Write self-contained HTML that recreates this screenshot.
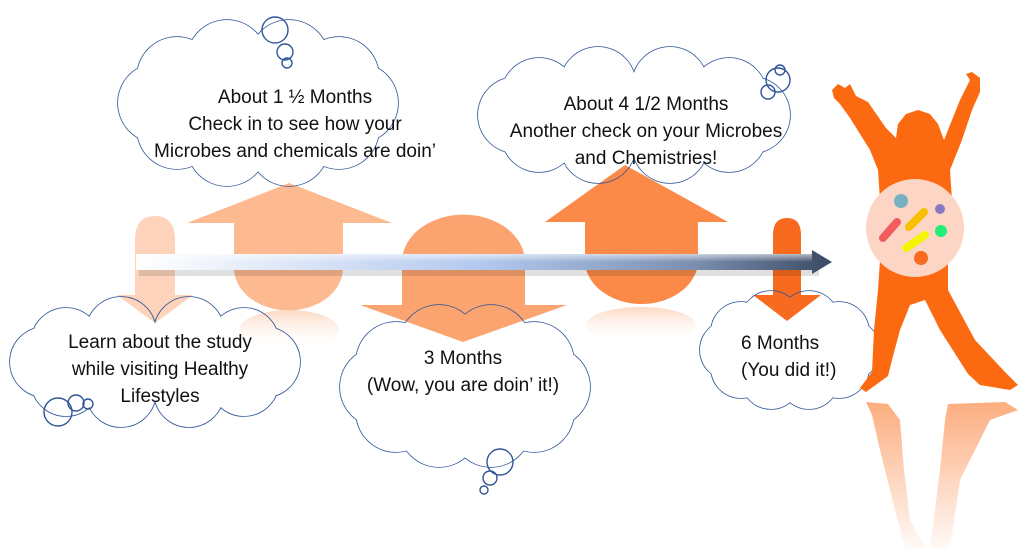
<!DOCTYPE html>
<html><head><meta charset="utf-8">
<style>
html,body{margin:0;padding:0;background:#fff;}
svg{display:block;}
text{font-family:"Liberation Sans",sans-serif;font-size:19px;fill:#111;}
</style></head>
<body>
<svg width="1024" height="548" viewBox="0 0 1024 548" xmlns="http://www.w3.org/2000/svg">
<defs>
<linearGradient id="bar" x1="0" x2="1" y1="0" y2="0">
<stop offset="0" stop-color="#ffffff"/>
<stop offset="0.5" stop-color="#b2c8ee"/>
<stop offset="0.8" stop-color="#7b8fb0"/>
<stop offset="1" stop-color="#3b4a63"/>
</linearGradient>
<linearGradient id="barv" x1="0" x2="0" y1="0" y2="1">
<stop offset="0" stop-color="#fff" stop-opacity="0.6"/>
<stop offset="1" stop-color="#fff" stop-opacity="0"/>
</linearGradient>
<linearGradient id="refl" x1="0" x2="0" y1="0" y2="1">
<stop offset="0" stop-color="#fb8a48" stop-opacity="0.7"/>
<stop offset="1" stop-color="#fb8a48" stop-opacity="0.05"/>
</linearGradient>
<linearGradient id="arefl" x1="0" x2="0" y1="0" y2="1">
<stop offset="0" stop-color="#fcd0b5" stop-opacity="0.8"/>
<stop offset="1" stop-color="#fff" stop-opacity="0"/>
</linearGradient>
<g id="c1">
<circle cx="358" cy="103" r="40"/><circle cx="339" cy="129" r="40"/><circle cx="289" cy="146" r="40"/><circle cx="227" cy="146" r="40"/><circle cx="177" cy="129" r="40"/><circle cx="158" cy="103" r="40"/><circle cx="177" cy="77" r="40"/><circle cx="227" cy="60" r="40"/><circle cx="289" cy="60" r="40"/><circle cx="339" cy="77" r="40"/>
</g>
<g id="c2">
<circle cx="752" cy="115" r="38"/><circle cx="729" cy="134" r="38"/><circle cx="670" cy="145" r="38"/><circle cx="598" cy="145" r="38"/><circle cx="539" cy="134" r="38"/><circle cx="516" cy="115" r="38"/><circle cx="539" cy="96" r="38"/><circle cx="598" cy="85" r="38"/><circle cx="670" cy="85" r="38"/><circle cx="729" cy="96" r="38"/>
</g>
<g id="c3">
<circle cx="265" cy="362" r="35"/><circle cx="244" cy="381" r="35"/><circle cx="189" cy="392" r="35"/><circle cx="121" cy="392" r="35"/><circle cx="66" cy="381" r="35"/><circle cx="45" cy="362" r="35"/><circle cx="66" cy="343" r="35"/><circle cx="121" cy="332" r="35"/><circle cx="189" cy="332" r="35"/><circle cx="244" cy="343" r="35"/>
</g>
<g id="c4">
<circle cx="550" cy="387" r="40"/><circle cx="534" cy="412" r="40"/><circle cx="491" cy="427" r="40"/><circle cx="439" cy="427" r="40"/><circle cx="396" cy="412" r="40"/><circle cx="380" cy="387" r="40"/><circle cx="396" cy="362" r="40"/><circle cx="439" cy="345" r="40"/><circle cx="491" cy="345" r="40"/><circle cx="534" cy="362" r="40"/>
</g>
<g id="c5">
<circle cx="850" cy="350" r="30"/><circle cx="839" cy="368" r="30"/><circle cx="809" cy="379" r="30"/><circle cx="771" cy="379" r="30"/><circle cx="741" cy="368" r="30"/><circle cx="730" cy="350" r="30"/><circle cx="741" cy="332" r="30"/><circle cx="771" cy="321" r="30"/><circle cx="809" cy="321" r="30"/><circle cx="839" cy="332" r="30"/>
</g>
<mask id="cm" maskUnits="userSpaceOnUse" x="0" y="0" width="1024" height="548">
<rect x="0" y="0" width="1024" height="548" fill="#fff"/>
<g fill="#000" stroke="none" transform="translate(0,0)">
<use href="#c1"/><use href="#c2"/><use href="#c3"/><use href="#c4"/><use href="#c5"/>
<ellipse cx="258" cy="103" rx="105" ry="50"/>
<ellipse cx="634" cy="115" rx="120" ry="36"/>
<ellipse cx="155" cy="362" rx="112" ry="36"/>
<ellipse cx="465" cy="387" rx="90" ry="46"/>
<ellipse cx="790" cy="350" rx="62" ry="32"/>
</g>
</mask>
</defs>

<!-- arrows -->
<path d="M135,240 Q135,216 155,216 Q175,216 175,240 L175,295 L193,295 L155,323 L117,295 L135,295 Z" fill="#fdd3bb"/>
<path d="M289,183 L392,223 L343,223 L343,268 A54,42 0 0 1 234,268 L234,223 L187,223 Z" fill="#fdb990"/>
<ellipse cx="289" cy="330" rx="50" ry="20" fill="url(#arefl)"/>
<path d="M402,262 A61,47 0 0 1 525,262 L525,305 L567,305 L463,342 L360,305 L402,305 Z" fill="#fca46f"/>
<path d="M625,165 L728,222 L698,222 L698,265 A57,45 0 0 1 585,265 L585,222 L545,222 Z" fill="#fb8a48"/>
<ellipse cx="641" cy="325" rx="55" ry="18" fill="url(#arefl)"/>
<path d="M773,235 Q773,218 787,218 Q801,218 801,235 L801,295 L821,295 L787,321 L753,295 L773,295 Z" fill="#f86a1f"/>

<!-- timeline bar -->
<rect x="137" y="256" width="680" height="17" fill="#000" opacity="0.12" transform="translate(2,3)"/>
<path d="M136,254 L812,254 L812,250 L832,262 L812,274 L812,270 L136,270 Z" fill="url(#bar)"/>
<rect x="136" y="254" width="676" height="8" fill="url(#barv)"/>

<!-- clouds -->
<g fill="none" stroke="#2f5597" stroke-width="1.6" mask="url(#cm)">
<use href="#c1"/><use href="#c2"/><use href="#c3"/><use href="#c4"/><use href="#c5"/>
</g>

<!-- bubbles -->
<g fill="none" stroke="#2f5597" stroke-width="1.4">
<circle cx="275" cy="30" r="13"/><circle cx="285" cy="52" r="8"/><circle cx="287" cy="63" r="5"/>
<circle cx="778" cy="80" r="12"/><circle cx="768" cy="92" r="7"/><circle cx="780" cy="70" r="5"/>
<circle cx="58" cy="412" r="14"/><circle cx="76" cy="403" r="8"/><circle cx="88" cy="404" r="5"/>
<circle cx="500" cy="462" r="13"/><circle cx="490" cy="478" r="7"/><circle cx="484" cy="490" r="4"/>
</g>

<!-- text -->
<g text-anchor="middle">
<text x="295" y="103">About 1 ½ Months</text>
<text x="295" y="130">Check in to see how your</text>
<text x="295" y="157">Microbes and chemicals are doin’</text>
<text x="646" y="110">About 4 1/2 Months</text>
<text x="646" y="137">Another check on your Microbes</text>
<text x="646" y="164">and Chemistries!</text>
<text x="160" y="348">Learn about the study</text>
<text x="160" y="375">while visiting Healthy</text>
<text x="160" y="402">Lifestyles</text>
<text x="463" y="364">3 Months</text>
<text x="463" y="391">(Wow, you are doin’ it!)</text>
</g>
<text x="741" y="349">6 Months</text>
<text x="741" y="376">(You did it!)</text>

<!-- figure -->
<path fill="#fb6a10" d="M832,90 L838,84 L845,88 L850,84 L856,96 L868,102 L886,128 L896,138 L898,124 L906,114 L918,110 L930,114 L938,124 L944,140 L960,100 L970,80 L966,74 L972,72 L980,78 L980,92 L972,110 L962,140 L950,170 L952,200 L952,240 L948,260 L948,290 L975,340 L1005,372 L1018,385 L1010,390 L980,385 L968,374 L940,330 L925,300 L910,305 L900,330 L892,360 L888,376 L866,392 L860,388 L872,372 L874,330 L878,290 L880,260 L878,230 L880,200 L878,170 L870,150 L850,118 L840,104 L834,98 Z"/>
<circle cx="915" cy="228" r="49" fill="#fcd5c5"/>
<circle cx="901" cy="201" r="7" fill="#78b0c4"/>
<circle cx="940" cy="209" r="5" fill="#8a78c4"/>
<circle cx="941" cy="231" r="6" fill="#22ee77"/>
<circle cx="921" cy="258" r="7" fill="#f86a1f"/>
<line x1="883" y1="238" x2="897" y2="222" stroke="#f25c5c" stroke-width="8" stroke-linecap="round"/>
<line x1="909" y1="227" x2="924" y2="212" stroke="#f7c000" stroke-width="8" stroke-linecap="round"/>
<line x1="906" y1="248" x2="925" y2="235" stroke="#f5f500" stroke-width="8" stroke-linecap="round"/>
<path fill="url(#refl)" d="M866,402 L888,404 L900,420 L904,470 L910,520 L925,548 L905,548 L895,510 L880,450 L872,415 Z M948,404 L1005,402 L1018,410 L990,420 L960,480 L950,548 L930,548 L940,470 L945,420 Z"/>
</svg>
</body></html>
